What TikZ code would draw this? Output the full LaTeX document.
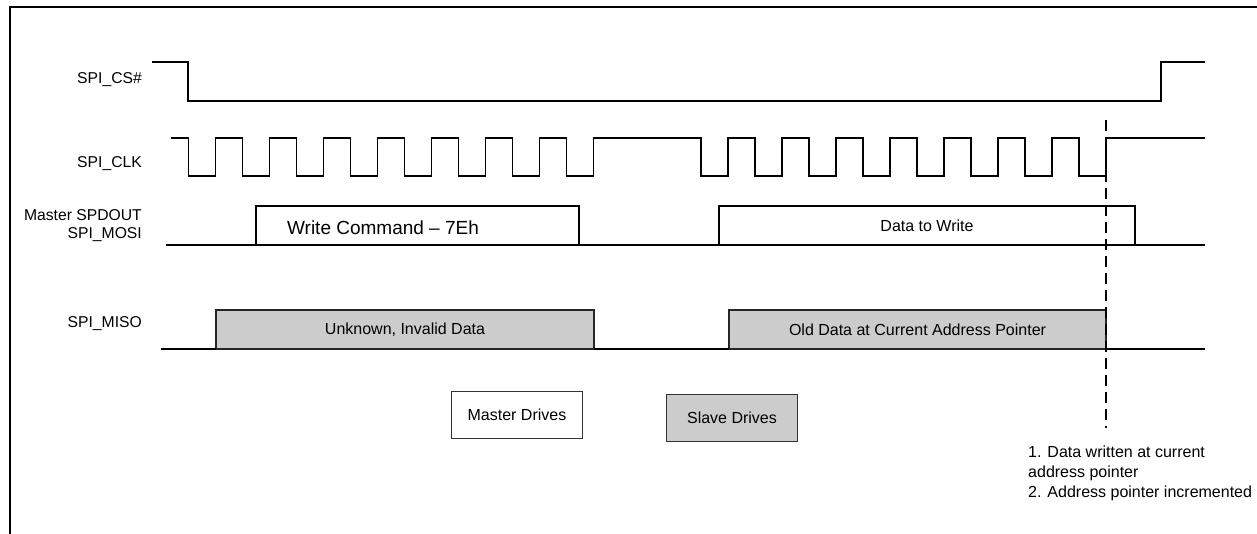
\documentclass[tikz,border=0pt]{standalone}
\usepackage{fontspec}
\setmainfont{Liberation Sans}
\usepackage{tikz}
\usetikzlibrary{positioning}

\begin{document}
\begin{tikzpicture}[x=1pt,y=-1pt,
    every node/.style={font=\fontsize{16}{19}\selectfont},
    wave/.style={line width=1.7pt,line join=miter},
    busbox/.style={draw,line width=1.7pt,outer sep=0pt,inner sep=0pt,minimum height=39pt},
    slavebox/.style={busbox,fill=black!20,draw=black!85},
    siglabel/.style={anchor=east,align=right,inner sep=0pt,font=\fontsize{15.7}{18}\selectfont},
    drivebox/.style={draw=black!80,line width=1.1pt,minimum width=131pt,minimum height=47pt}]
    \useasboundingbox (0,0) rectangle (1257,534);
    % frame
    \draw[line width=2.6pt] (1257,7) -- (10,7) -- (10,534);
    % signal names
    \node[siglabel] (cslbl) at (142,80) {SPI\_CS\#};
    \node[siglabel] (clklbl) at (142,164) {SPI\_CLK};
    \node[siglabel] (mosilbl) at (142,226) {Master SPDOUT\\SPI\_MOSI};
    \node[siglabel] (misolbl) at (142,324) {SPI\_MISO};
    % chip select
    \draw[wave] (152,62) -- (188,62) -- (188,101) -- (1161,101) -- (1161,62) -- (1205,62);
    % clock, two bytes
    \draw[wave] (171,138)
        \foreach \k in {0,...,7}{ -- ({188.5+54*\k},138) -- ({188.5+54*\k},176) -- ({215.5+54*\k},176) -- ({215.5+54*\k},138) }
        \foreach \k in {0,...,7}{ -- ({701+54*\k},138) -- ({701+54*\k},176) -- ({728+54*\k},176) -- ({728+54*\k},138) }
        -- (1205,138);
    % master out
    \node[busbox,minimum width=323pt] (cmd) at (417.5,225.5) {};
    \node[font=\fontsize{19}{23}\selectfont] (cmdtxt) at (383,228) {Write Command -- 7Eh};
    \node[busbox,minimum width=416pt] (wdat) at (927,225.5) {Data to Write};
    \draw[wave] (166,245) -- (cmd.south west);
    \draw[wave] (cmd.south east) -- (wdat.south west);
    \draw[wave] (wdat.south east) -- (1205,245);
    % slave out
    \node[slavebox,minimum width=378pt] (junk) at (405,329.5) {Unknown, Invalid Data};
    \node[slavebox,minimum width=377pt] (olddat) at (917.5,329.5) {Old Data at Current Address Pointer};
    \draw[wave] (161,349) -- (junk.south west);
    \draw[wave] (junk.south east) -- (olddat.south west);
    \draw[wave] (olddat.south east) -- (1205,349);
    % legend
    \node[drivebox] (mdrv) at (517,415) {Master Drives};
    \node[drivebox,fill=black!20] (sdrv) at (732,418) {Slave Drives};
    % write point
    \coordinate (marktop) at (1106,120);
    \coordinate (markbot) at (1106,428);
    \draw[line width=2.4pt,dash pattern=on 11pt off 6pt] (marktop) -- (markbot);
    \node[anchor=north west,align=left,inner sep=0pt,font=\fontsize{16}{20}\selectfont] (wnote) at (1028,446)
        {1. Data written at current\\address pointer\\2. Address pointer incremented};
\end{tikzpicture}
\end{document}
